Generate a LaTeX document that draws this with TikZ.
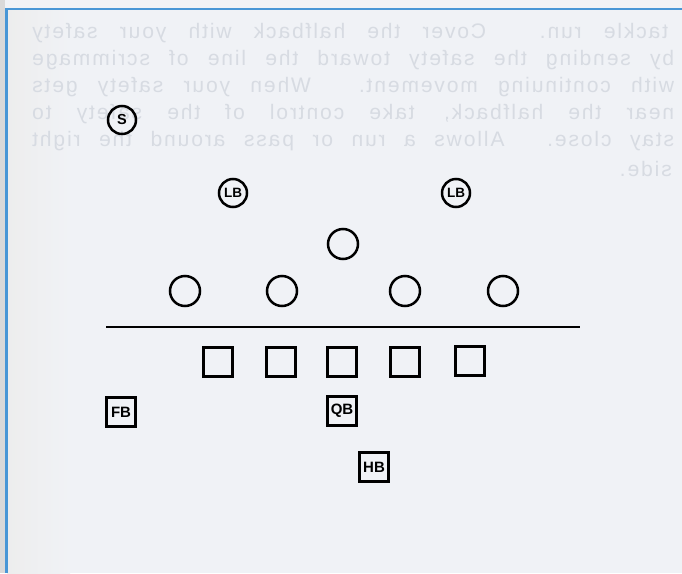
\documentclass[tikz,border=0pt]{standalone}
\usepackage{fontspec}
\usepackage{graphicx}
\setmainfont{Liberation Sans}
\newfontfamily\ghostfont[LetterSpace=9]{Liberation Sans}
\definecolor{paper}{RGB}{240,242,246}
\definecolor{edgeblue}{RGB}{72,150,214}
\definecolor{ghost}{RGB}{215,219,226}
\tikzset{
  ghostline/.style={anchor=west,inner sep=0pt,text=ghost,font=\ghostfont\fontsize{21}{21}\selectfont},
  defender/.style={circle,draw,line width=2.5pt,minimum size=30pt,inner sep=0pt,font=\bfseries\fontsize{14.5}{14.5}\selectfont},
  blocker/.style={rectangle,draw,line width=2.5pt,minimum size=29pt,inner sep=0pt,font=\bfseries\fontsize{15}{15}\selectfont}
}
\newcommand{\backline}[2]{\reflectbox{\makebox[#1][s]{#2}}}

\begin{document}
\begin{tikzpicture}[x=1pt,y=-1pt]
  \useasboundingbox (0,0) rectangle (682,573);
  \fill[paper] (0,0) rectangle (682,573);
  \fill[gray!30] (0,0) rectangle (5,573);
  \shade[left color=gray!14,right color=paper] (7,10) rectangle (70,573);
  % print-through from the back page
  \node[ghostline] (back1) at (32,33) {\backline{636pt}{tackle run. Cover the halfback with your safety}};
  \node[ghostline] (back2) at (32,60) {\backline{642pt}{by sending the safety toward the line of scrimmage}};
  \node[ghostline] (back3) at (32,87) {\backline{642pt}{with continuing movement. When your safety gets}};
  \node[ghostline] (back4) at (32,114) {\backline{642pt}{near the halfback, take control of the safety to}};
  \node[ghostline] (back5) at (32,141) {\backline{642pt}{stay close. Allows a run or pass around the right}};
  \node[ghostline,anchor=east] (back6) at (672,169) {\reflectbox{side.}};
  % page frame
  \draw[edgeblue,line width=2.6pt] (6.5,573) -- (6.5,9) -- (682,9);
  % defense
  \node[defender,minimum size=28pt] (s) at (122,120) {S};
  \node[defender,minimum size=28pt,font=\bfseries\fontsize{13.5}{13.5}\selectfont] (lbl) at (233,193) {LB};
  \node[defender,minimum size=28pt,font=\bfseries\fontsize{13.5}{13.5}\selectfont] (lbr) at (456,193) {LB};
  \node[defender] (nose) at (343,244) {};
  \node[defender] (d1) at (185,291) {};
  \node[defender] (d2) at (282,291) {};
  \node[defender] (d3) at (405,291) {};
  \node[defender] (d4) at (503,291) {};
  % line of scrimmage
  \coordinate (losl) at (106,327);
  \coordinate (losr) at (580,327);
  \draw[line width=2.4pt] (losl) -- (losr);
  % offense
  \node[blocker] (o1) at (218,362) {};
  \node[blocker] (o2) at (281,362) {};
  \node[blocker] (o3) at (342,362) {};
  \node[blocker] (o4) at (405,362) {};
  \node[blocker] (o5) at (470,361) {};
  \node[blocker] (fb) at (121,412) {FB};
  \node[blocker] (qb) at (342,411) {QB};
  \node[blocker] (hb) at (374,467) {HB};
\end{tikzpicture}
\end{document}
